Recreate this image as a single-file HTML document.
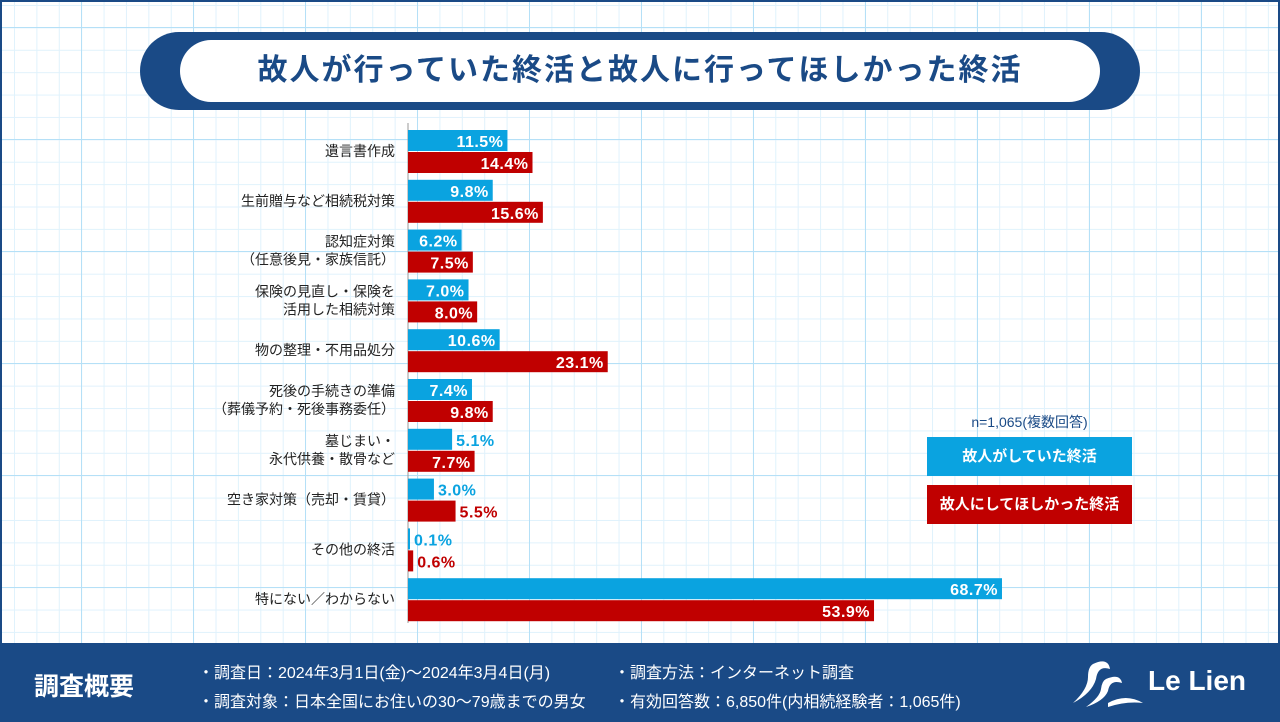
<!DOCTYPE html>
<html><head><meta charset="utf-8">
<style>
body{margin:0;width:1280px;height:720px;overflow:hidden;font-family:"Liberation Sans","Noto Sans CJK JP",sans-serif;}
#wrap{position:relative;width:1280px;height:720px;background-color:#fff;
background-image:
linear-gradient(to right,#b5e0f7 1px,transparent 1px),
linear-gradient(to bottom,#b5e0f7 1px,transparent 1px),
linear-gradient(to right,#e0f2fc 1px,transparent 1px),
linear-gradient(to bottom,#e0f2fc 1px,transparent 1px);
background-size:112px 112px,112px 112px,22.4px 22.4px,22.4px 22.4px;
background-position:79px 25px,79px 25px,12px 3px,12px 3px;
box-sizing:border-box;border:2px solid #1a4a86;}
</style></head><body>
<div id="wrap">
<div style="position:absolute;left:138px;top:30px;width:1000px;height:78px;border-radius:39px;background:#1a4a86;"></div>
<div style="position:absolute;left:178px;top:38px;width:920px;height:62px;border-radius:31px;background:#fff;color:#1a4a86;font-size:30px;font-weight:bold;text-align:center;line-height:62px;letter-spacing:2px;">故人が行っていた終活と故人に行ってほしかった終活</div>
<svg id="chart" width="1280" height="720" style="position:absolute;left:-2px;top:-2px;"></svg>
<div style="position:absolute;left:925px;top:410px;width:205px;text-align:center;font-size:14px;color:#1a4a86;">n=1,065(複数回答)</div>
<div style="position:absolute;left:925px;top:435px;width:205px;height:39px;background:#0aa3e0;color:#fff;font-size:15px;font-weight:bold;text-align:center;line-height:39px;">故人がしていた終活</div>
<div style="position:absolute;left:925px;top:483px;width:205px;height:39px;background:#c00000;color:#fff;font-size:15px;font-weight:bold;text-align:center;line-height:39px;">故人にしてほしかった終活</div>
<div style="position:absolute;left:-2px;top:641px;width:1280px;height:79px;background:#1a4a86;color:#fff;">
 <div style="position:absolute;left:34px;top:24px;font-size:25px;font-weight:bold;">調査概要</div>
 <div style="position:absolute;left:198px;top:16px;font-size:16px;">・調査日：2024年3月1日(金)～2024年3月4日(月)</div>
 <div style="position:absolute;left:198px;top:45px;font-size:16px;">・調査対象：日本全国にお住いの30～79歳までの男女</div>
 <div style="position:absolute;left:614px;top:16px;font-size:16px;">・調査方法：インターネット調査</div>
 <div style="position:absolute;left:614px;top:45px;font-size:16px;">・有効回答数：6,850件(内相続経験者：1,065件)</div>
 <svg width="75" height="50" style="position:absolute;left:1068px;top:16px;"><path d="M25 5 Q40 -2 42 10 Q30 6 28 20 Q24 34 5 44 Q20 30 20 18 Q20 8 25 5Z M38 20 Q52 14 54 24 Q42 20 40 32 Q36 42 18 48 Q32 38 33 30 Q34 22 38 20Z M40 44 Q58 34 75 44 Q58 42 40 48Z" fill="#fff"/></svg>
 <div style="position:absolute;left:1148px;top:22px;font-size:28px;font-weight:bold;">Le Lien</div>
</div>
</div>
<script>
const categories=[["遺言書作成"],["生前贈与など相続税対策"],["認知症対策","（任意後見・家族信託）"],["保険の見直し・保険を","活用した相続対策"],["物の整理・不用品処分"],["死後の手続きの準備","（葬儀予約・死後事務委任）"],["墓じまい・","永代供養・散骨など"],["空き家対策（売却・賃貸）"],["その他の終活"],["特にない／わからない"]];
const didValues=[11.5,9.8,6.2,7.0,10.6,7.4,5.1,3.0,0.1,68.7];
const wantedValues=[14.4,15.6,7.5,8.0,23.1,9.8,7.7,5.5,0.6,53.9];
const NS="http://www.w3.org/2000/svg";
const svg=document.getElementById('chart');
const x0=408,scale=8.646,y0=130,pitch=49.8,bh=21;
const xs=v=>v*scale;
function mk(t,a){const e=document.createElementNS(NS,t);for(const k in a)e.setAttribute(k,a[k]);svg.appendChild(e);return e;}
const ax=mk('line',{x1:x0,x2:x0,y1:123,y2:623,stroke:'#999','stroke-width':1});


categories.forEach((c,i)=>{
 const yc=y0+i*pitch+bh;
 c.forEach((ln,j)=>{
  const t=mk('text',{x:395,y:yc+5+(j-(c.length-1)/2)*18,'text-anchor':'end','font-size':14,fill:'#222'});
  t.textContent=ln;
  
  
 });
 [[didValues[i],'#0aa3e0',0],[wantedValues[i],'#c00000',1]].forEach(([v,col,k])=>{
  const y=y0+i*pitch+k*(bh+1);
  const w=Math.max(xs(v),2);
  const r=mk('rect',{x:x0,y:y,width:w,height:bh,fill:col});
  
  
  const lbl=v.toFixed(1)+'%';
  const inside=w>50;
  const t=mk('text',{x:inside?x0+w-4:x0+w+4,y:y+17,'text-anchor':inside?'end':'start','font-size':16,'font-weight':'bold',fill:inside?'#fff':col,'letter-spacing':'0.5'});
  t.textContent=lbl;
  
  
 });
});
</script>
</body></html>
